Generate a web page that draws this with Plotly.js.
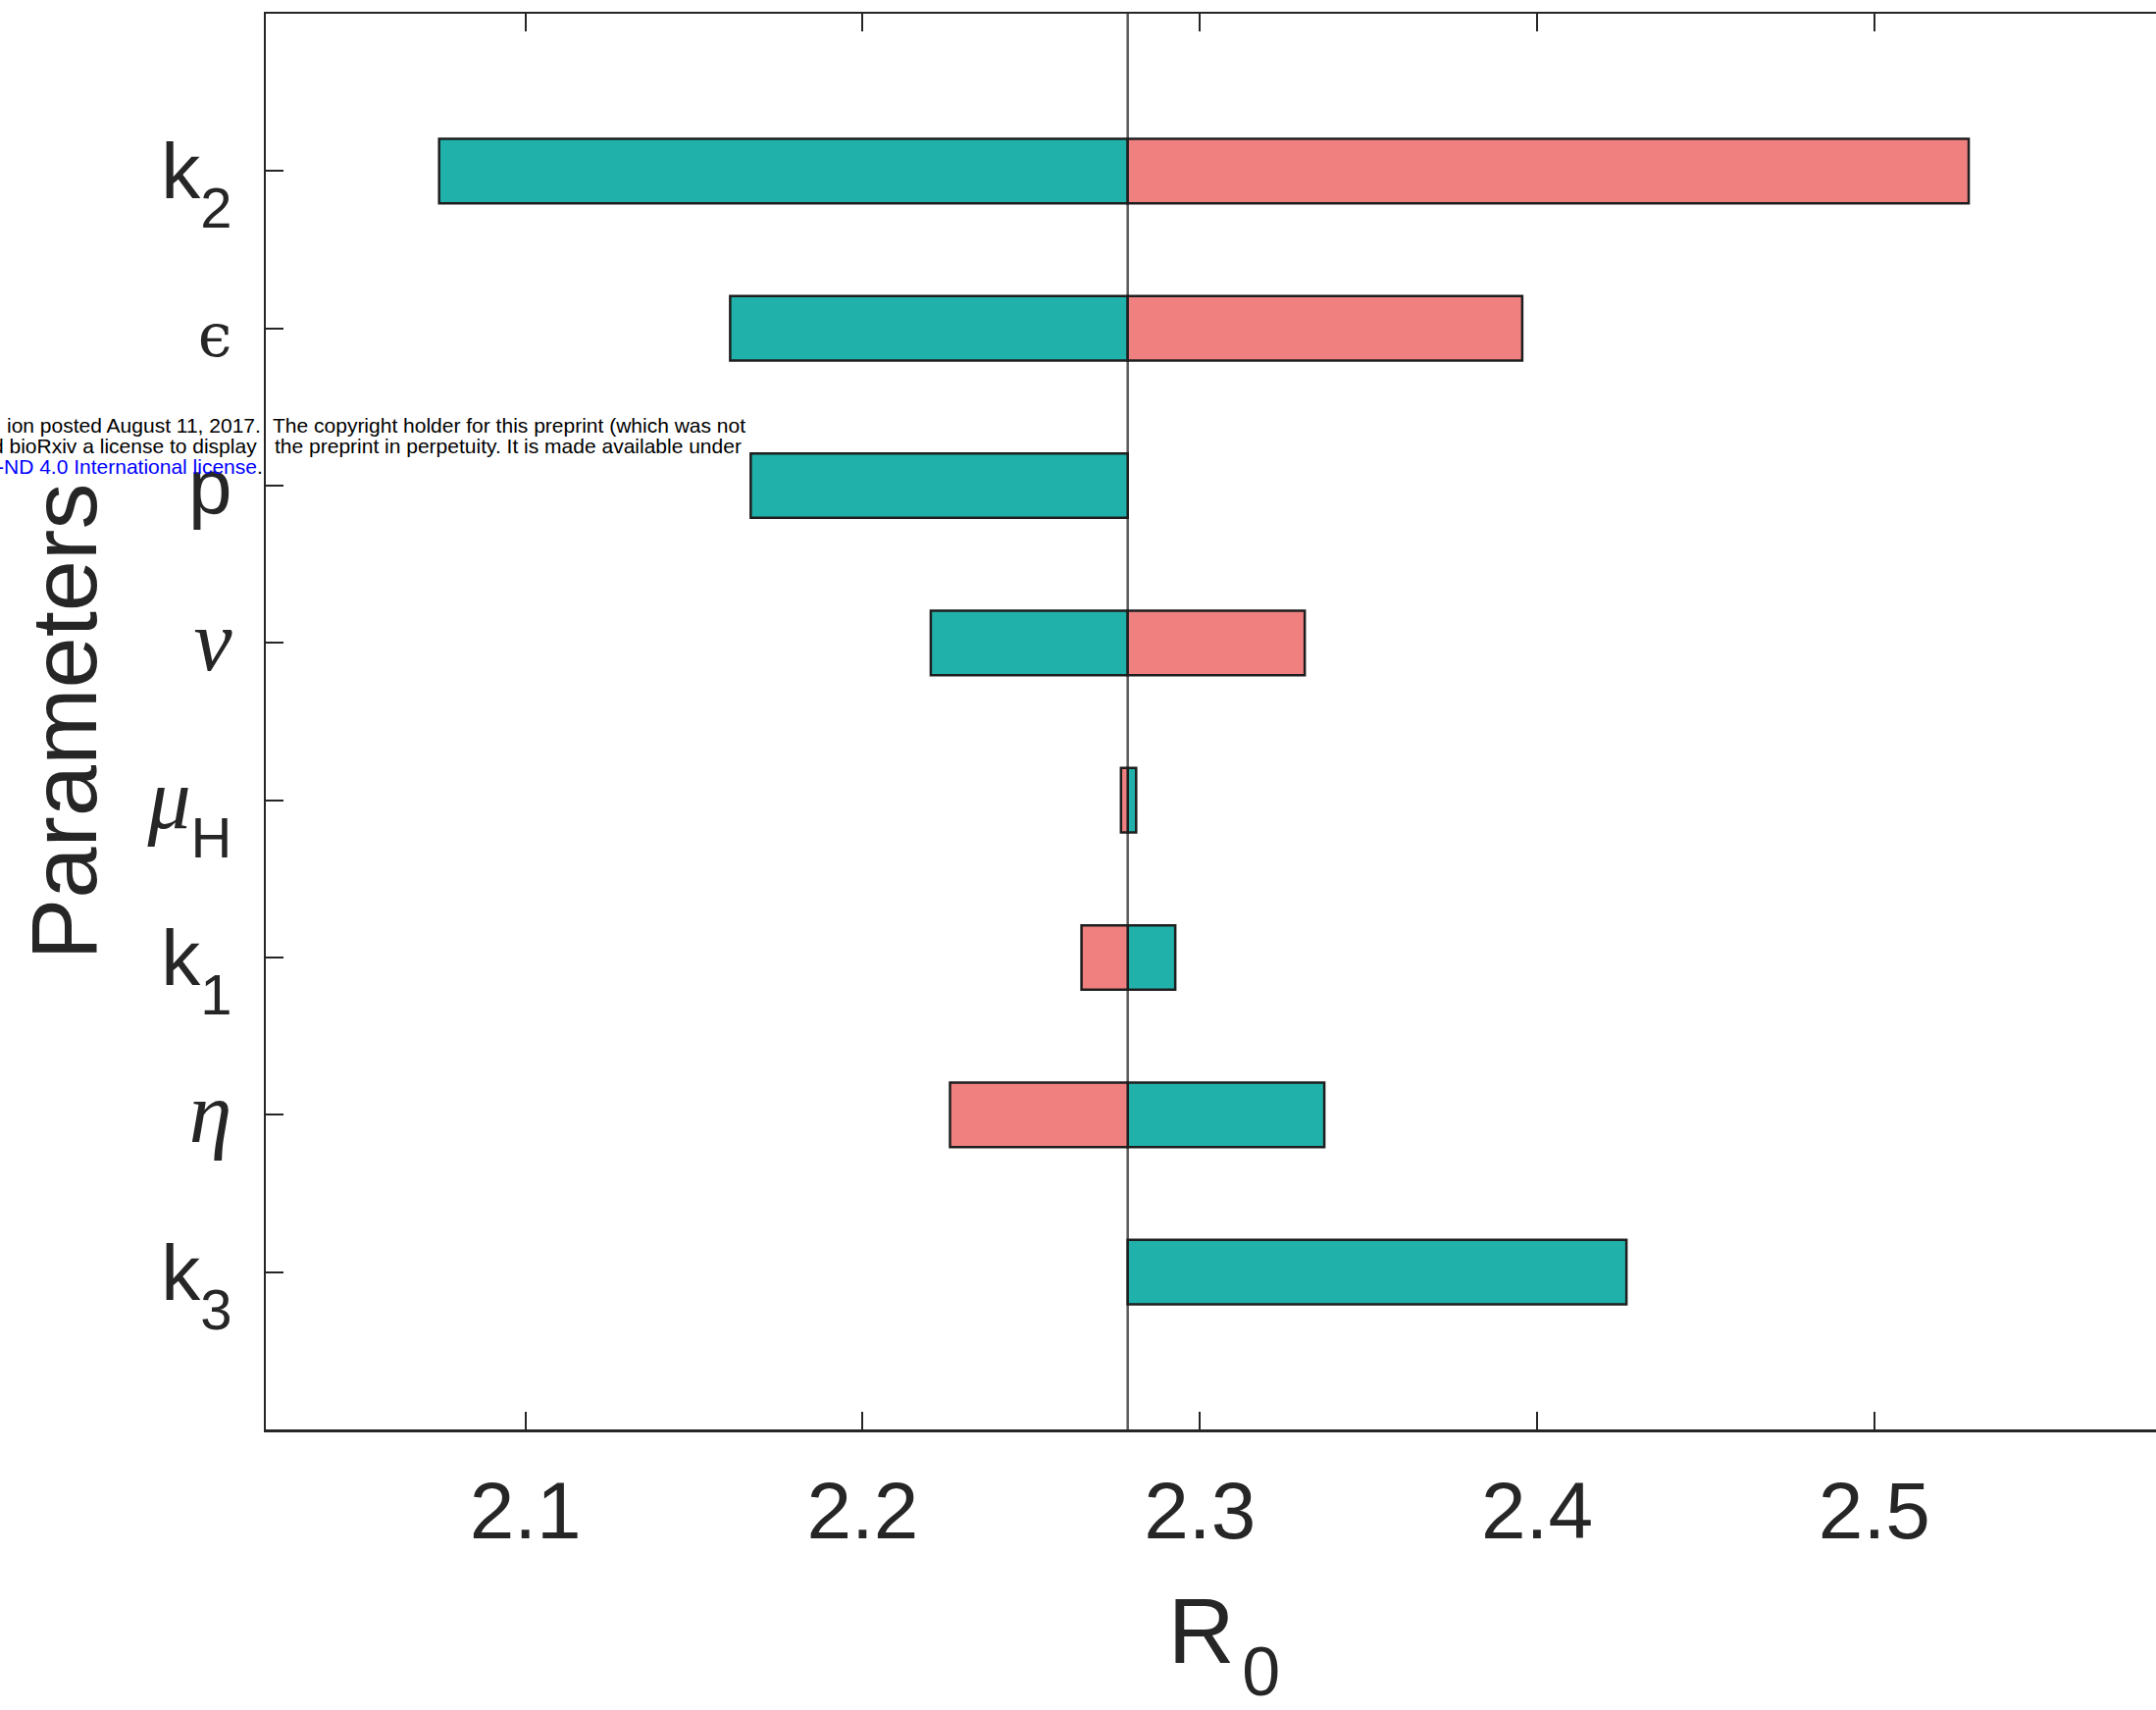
<!DOCTYPE html>
<html>
<head>
<meta charset="utf-8">
<script src="https://cdn.plot.ly/plotly-3.0.1.min.js"></script>
<style>
html, body { margin: 0; padding: 0; background: #ffffff; overflow: hidden; }
#frame { width: 2198px; height: 1743px; overflow: hidden; position: relative; }
#chart { width: 2225px; height: 1743px; }
</style>
</head>
<body>
<div id="frame"><div id="chart"></div></div>
<script>
// ---- data ----
var parameters = ['k2', 'epsilon', 'p', 'nu', 'muH', 'k1', 'eta', 'k3'];
var SUB = '<span style="font-size:58px;baseline-shift:-30px">';
var GREEK = '<span style="font-family:Liberation Serif;font-style:italic;font-size:88px">';
var parameterLabels = [
  'k' + SUB + '2</span>',
  '<span style="font-family:DejaVu Serif;font-size:62px">ϵ</span>',
  'p',
  GREEK + 'ν</span>',
  GREEK + 'μ</span>' + SUB + 'H</span>',
  'k' + SUB + '1</span>',
  GREEK + 'η</span>',
  'k' + SUB + '3</span>'
];
var baselineR0 = 2.2786;
// R0 reached at the end of the teal bar and of the pink bar (null = no bar)
var tealR0 = [2.0744, 2.1607, 2.1668, 2.2202, 2.2811, 2.2927, 2.3369, 2.4265];
var pinkR0 = [2.5280, 2.3956, null, 2.3311, 2.2766, 2.2649, 2.2259, null];
var xTicks = [2.1, 2.2, 2.3, 2.4, 2.5];
var xTickLabels = ['2.1', '2.2', '2.3', '2.4', '2.5'];
// preprint notice (left parts end at the axis, right parts start after it)
var noticeLeft = [
  'ion posted August 11, 2017.',
  'd bioRxiv a license to display',
  '<span style="color:#0000ff">-ND 4.0 International license</span>.'
];
var noticeRight = [
  'The copyright holder for this preprint (which was not',
  'the preprint in perpetuity. It is made available under',
  ''
];

// ---- build traces ----
function offsets(arr) {
  return arr.map(function (v) { return v === null ? null : v - baselineR0; });
}
var baseArr = parameters.map(function () { return baselineR0; });

var edge = { color: '#1e1e1e', width: 2.5 };
var tealTrace = {
  type: 'bar', orientation: 'h', name: 'teal',
  y: parameters, x: offsets(tealR0), base: baseArr,
  width: 0.41,
  marker: { color: '#20b2aa', line: edge },
  hoverinfo: 'skip'
};
var pinkTrace = {
  type: 'bar', orientation: 'h', name: 'pink',
  y: parameters, x: offsets(pinkR0), base: baseArr,
  width: 0.41,
  marker: { color: '#f08080', line: edge },
  hoverinfo: 'skip'
};

var textColor = '#262626';
var fontFam = 'Liberation Sans, Arial, Helvetica, sans-serif';

// plot area in pixels: left 271, top 14, width 1954 (runs past the visible frame, as in the cropped original), height 1443
var plotW = 1954;
function px2paperX(px) { return (px - 271) / plotW; }
function px2paperY(py) { return (1457 - py) / 1443; }
var noticeY = [433, 454, 475];
var noticeLeftEnd = [268, 264, 270];
var noticeRightStart = [276, 278, 0];

var annotations = [];
for (var i = 0; i < 3; i++) {
  annotations.push({
    xref: 'paper', yref: 'paper', x: px2paperX(noticeLeftEnd[i]), y: px2paperY(noticeY[i]),
    xanchor: 'right', yanchor: 'middle', text: noticeLeft[i], showarrow: false,
    font: { size: 21, color: '#000000', family: fontFam }
  });
  if (noticeRight[i]) {
    annotations.push({
      xref: 'paper', yref: 'paper', x: px2paperX(noticeRightStart[i]), y: px2paperY(noticeY[i]),
      xanchor: 'left', yanchor: 'middle', text: noticeRight[i], showarrow: false,
      font: { size: 21, color: '#000000', family: fontFam }
    });
  }
}

var layout = {
  width: 2225, height: 1743,
  paper_bgcolor: '#ffffff', plot_bgcolor: '#ffffff',
  showlegend: false,
  barmode: 'overlay',
  margin: { l: 271, r: 0, t: 14, b: 286, pad: 0 },
  font: { family: fontFam, color: textColor },
  xaxis: {
    range: [2.0230, 2.5914],
    tickmode: 'array', tickvals: xTicks, ticktext: xTickLabels,
    ticks: 'inside', ticklen: 18, tickwidth: 2, tickcolor: textColor,
    showline: true, linewidth: 2.5, linecolor: textColor, mirror: 'ticks',
    showgrid: false, zeroline: false,
    tickfont: { size: 82, color: textColor, family: fontFam },
    ticklabelstandoff: 10,
    title: { text: 'R<span style="font-size:28px">\u00a0</span><span style="font-size:70px;baseline-shift:-33px">0</span>',
             font: { size: 94, color: textColor, family: fontFam }, standoff: 70 }
  },
  yaxis: {
    type: 'category',
    categoryorder: 'array', categoryarray: parameters,
    range: [8, -1],
    tickmode: 'array', tickvals: parameters, ticktext: parameterLabels,
    ticks: 'inside', ticklen: 18, tickwidth: 2, tickcolor: textColor,
    showline: true, linewidth: 2.5, linecolor: textColor, mirror: false,
    showgrid: false, zeroline: false,
    tickfont: { size: 80, color: textColor, family: fontFam },
    ticklabelstandoff: 16,
    title: { text: 'Parameters', font: { size: 94, color: textColor, family: fontFam }, standoff: 20 }
  },
  shapes: [{
    type: 'line', xref: 'x', yref: 'paper',
    x0: baselineR0, x1: baselineR0, y0: 0, y1: 1,
    line: { color: '#5a5a5a', width: 2.5 },
    layer: 'below'
  }],
  annotations: annotations
};

Plotly.newPlot('chart', [tealTrace, pinkTrace], layout, { staticPlot: true, displayModeBar: false });
</script>
</body>
</html>
